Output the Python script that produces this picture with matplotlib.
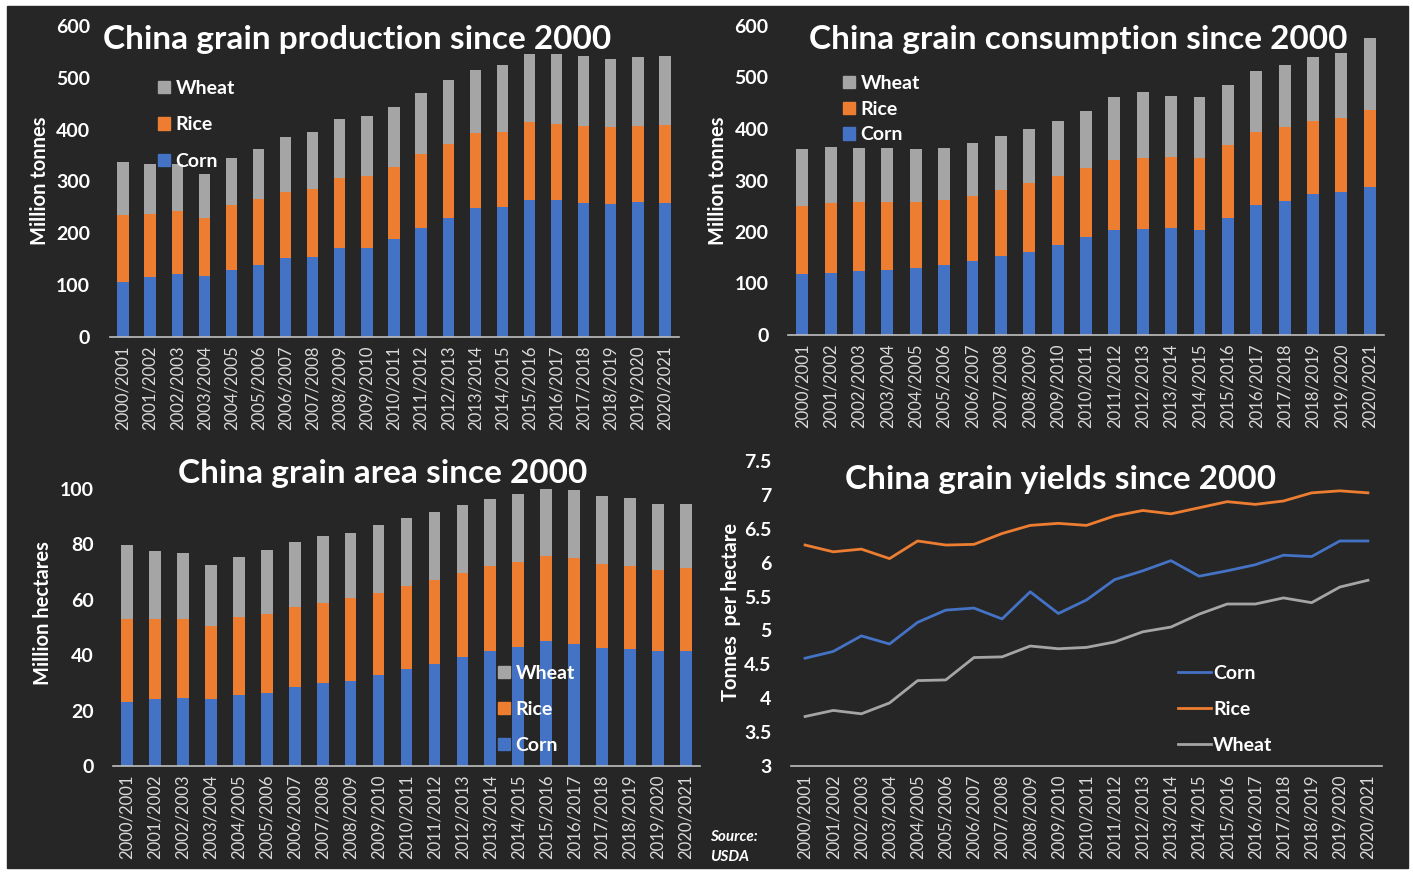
import matplotlib
matplotlib.use("Agg")
from matplotlib import pyplot as plt
from matplotlib.patches import Patch, Rectangle

plt.rcParams["font.family"] = ["Lato", "DejaVu Sans"]

seasons = [f"{y}/{y + 1}" for y in range(2000, 2021)]

# million tonnes
prod_corn = [106, 115, 121, 117, 130, 138, 152, 154, 172, 172, 190, 210, 230, 248, 250,
             264, 264, 259, 257, 261, 259]
prod_rice = [130, 122, 123, 112, 125, 128, 127, 132, 134, 139, 138, 143, 143, 145, 146,
             150, 147, 148, 148, 146, 150]
prod_wheat = [101, 96, 89, 86, 91, 96, 107, 109, 114, 116, 116, 118, 123, 122, 128,
              132, 135, 136, 131, 134, 134]

cons_corn = [118, 120, 125, 127, 130, 135, 143, 154, 162, 174, 190, 203, 205, 208, 203,
             228, 252, 261, 273, 277, 288]
cons_rice = [133, 137, 134, 132, 129, 128, 126, 127, 133, 134, 134, 137, 139, 138, 141,
             140, 143, 143, 143, 145, 148]
cons_wheat = [111, 109, 105, 105, 103, 101, 104, 105, 105, 107, 111, 122, 127, 118, 118,
              117, 118, 121, 124, 125, 140]

# million hectares
area_corn = [23.0, 24.2, 24.7, 24.2, 25.5, 26.4, 28.4, 30.1, 30.8, 33.0, 35.0, 36.8, 39.2,
             41.4, 43.0, 45.0, 44.2, 42.6, 42.1, 41.4, 41.4]
area_rice = [30.0, 28.8, 28.3, 26.4, 28.3, 28.6, 29.1, 28.6, 29.7, 29.5, 30.0, 30.3, 30.4,
             30.8, 30.8, 30.9, 30.9, 30.4, 30.1, 29.5, 30.0]
area_wheat = [26.7, 24.6, 23.9, 21.9, 21.7, 23.0, 23.4, 24.2, 23.7, 24.6, 24.6, 24.7, 24.6,
              24.1, 24.5, 24.5, 24.5, 24.6, 24.6, 23.8, 23.3]

# tonnes per hectare
yield_corn = [4.59, 4.69, 4.92, 4.80, 5.12, 5.30, 5.33, 5.17, 5.57, 5.25, 5.45, 5.75, 5.88,
              6.03, 5.80, 5.88, 5.97, 6.11, 6.09, 6.32, 6.32]
yield_rice = [6.26, 6.16, 6.20, 6.06, 6.32, 6.26, 6.27, 6.43, 6.55, 6.58, 6.55, 6.69, 6.77,
              6.72, 6.81, 6.90, 6.86, 6.91, 7.03, 7.06, 7.03]
yield_wheat = [3.73, 3.82, 3.77, 3.93, 4.26, 4.27, 4.60, 4.61, 4.77, 4.73, 4.75, 4.83, 4.98,
               5.05, 5.24, 5.39, 5.39, 5.48, 5.41, 5.64, 5.74]

CORN = "#4472C4"
RICE = "#ED7D31"
WHEAT = "#A5A5A5"
BG = "#262626"
W, H = 1413, 874


def add_axes(fig, x0, x1, ytop, ybot):
    ax = fig.add_axes([x0 / W, 1 - ybot / H, (x1 - x0) / W, (ybot - ytop) / H])
    ax.set_facecolor("none")
    for side in ["top", "right", "left"]:
        ax.spines[side].set_visible(False)
    ax.spines["bottom"].set_color("#bfbfbf")
    ax.spines["bottom"].set_linewidth(1.2)
    ax.tick_params(axis="y", length=0, colors="white", pad=14)
    ax.tick_params(axis="x", length=0, colors="#d9d9d9", labelsize=12, pad=6)
    return ax


def set_yaxis(ax, lo, hi, ticks):
    ax.set_ylim(lo, hi)
    ax.set_yticks(ticks, [f"{t:g}" for t in ticks], fontsize=14, fontweight="bold")


def stacked_bars(ax, corn, rice, wheat):
    x = range(len(seasons))
    ax.bar(x, corn, width=0.42, color=CORN)
    ax.bar(x, rice, width=0.42, bottom=corn, color=RICE)
    ax.bar(x, wheat, width=0.42, bottom=[c + r for c, r in zip(corn, rice)], color=WHEAT)
    ax.set_xlim(-0.5, len(seasons) - 0.5)
    ax.set_xticks(list(x))
    ax.set_xticklabels(seasons, rotation=90)


def style_legend(leg):
    for t in leg.get_texts():
        t.set_color("white")
        t.set_fontweight("bold")


def bar_legend(ax, fig, px, py, spacing):
    handles = [Patch(color=WHEAT), Patch(color=RICE), Patch(color=CORN)]
    leg = ax.legend(handles, ["Wheat", "Rice", "Corn"], loc="upper left",
                    bbox_to_anchor=(px / W, 1 - py / H), bbox_transform=fig.transFigure,
                    frameon=False, fontsize=14, labelspacing=spacing, handlelength=0.6,
                    handleheight=0.6, handletextpad=0.3, borderpad=0, borderaxespad=0)
    style_legend(leg)


def title(fig, x, y, text):
    fig.text(x / W, 1 - y / H, text, ha="center", va="center", color="white",
             fontsize=24, fontweight="bold")


def ylabel(fig, x, y, text):
    fig.text(x / W, 1 - y / H, text, ha="center", va="center", color="white",
             fontsize=14.5, fontweight="bold", rotation=90)


fig = plt.figure(figsize=(W / 100, H / 100), dpi=100)
fig.patch.set_facecolor("white")
fig.patches.append(Rectangle((7 / W, 1 - 868 / H), 1401 / W, 862 / H,
                             transform=fig.transFigure, color=BG, zorder=-10))

# production
ax1 = add_axes(fig, 109.5, 678.5, 26, 337)
stacked_bars(ax1, prod_corn, prod_rice, prod_wheat)
set_yaxis(ax1, 0, 600, list(range(0, 601, 100)))
bar_legend(ax1, fig, 158, 80, 1.0)
title(fig, 357, 39, "China grain production since 2000")
ylabel(fig, 40, 181, "Million tonnes")

# consumption
ax2 = add_axes(fig, 788, 1384, 26, 335)
stacked_bars(ax2, cons_corn, cons_rice, cons_wheat)
set_yaxis(ax2, 0, 600, list(range(0, 601, 100)))
bar_legend(ax2, fig, 843, 75, 0.45)
title(fig, 1078, 39, "China grain consumption since 2000")
ylabel(fig, 718, 181, "Million tonnes")

# area
ax3 = add_axes(fig, 113, 700, 489, 766)
stacked_bars(ax3, area_corn, area_rice, area_wheat)
set_yaxis(ax3, 0, 100, list(range(0, 101, 20)))
bar_legend(ax3, fig, 498, 665, 0.98)
title(fig, 383, 474, "China grain area since 2000")
ylabel(fig, 43, 613, "Million hectares")

# yields
ax4 = add_axes(fig, 791, 1382, 461, 766)
x = range(len(seasons))
ax4.plot(x, yield_corn, color=CORN, lw=2, label="Corn")
ax4.plot(x, yield_rice, color=RICE, lw=2, label="Rice")
ax4.plot(x, yield_wheat, color=WHEAT, lw=2, label="Wheat")
ax4.set_xlim(-0.5, len(seasons) - 0.5)
ax4.set_xticks(list(x))
ax4.set_xticklabels(seasons, rotation=90)
set_yaxis(ax4, 3, 7.5, [3, 3.5, 4, 4.5, 5, 5.5, 6, 6.5, 7, 7.5])
leg = ax4.legend(loc="upper left", bbox_to_anchor=(1178 / W, 1 - 665 / H),
                 bbox_transform=fig.transFigure, frameon=False, fontsize=14,
                 labelspacing=0.98, handlelength=1.7, handletextpad=0.1,
                 borderpad=0, borderaxespad=0)
style_legend(leg)
title(fig, 1061, 480, "China grain yields since 2000")
ylabel(fig, 731, 612, "Tonnes  per hectare")

fig.text(710 / W, 1 - 837 / H, "Source:", ha="left", va="center", color="white",
         fontsize=11, fontweight="bold", style="italic")
fig.text(710 / W, 1 - 857 / H, "USDA", ha="left", va="center", color="white",
         fontsize=11, fontweight="bold", style="italic")

fig.savefig("out.png", dpi=100, facecolor=fig.get_facecolor())
